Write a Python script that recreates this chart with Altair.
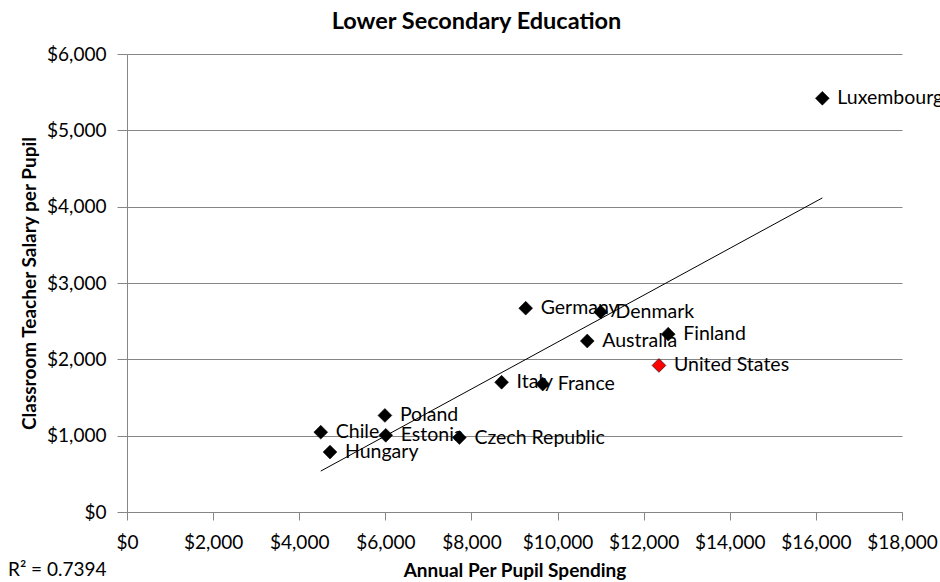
import altair as alt
import pandas as pd

countries = ["Luxembourg", "Germany", "Denmark", "Australia", "Finland", "United States",
             "Italy", "France", "Poland", "Chile", "Estonia", "Hungary", "Czech Republic"]
spending = [16150, 9260, 11000, 10690, 12570, 12355, 8700, 9655, 5990, 4500, 6010, 4715, 7720]
salary = [5420, 2670, 2620, 2240, 2330, 1920, 1700, 1675, 1265, 1045, 1005, 785, 975]
group = ["other", "other", "other", "other", "other", "us",
         "other", "other", "other", "other", "other", "other", "other"]

x_ticks = [0, 2000, 4000, 6000, 8000, 10000, 12000, 14000, 16000, 18000]
y_ticks = [0, 1000, 2000, 3000, 4000, 5000, 6000]
r2_text = ["R² = 0.7394"]

df = pd.DataFrame({"country": countries, "spending": spending, "salary": salary, "group": group})

FONT = "Lato"
GRAY = "#868686"

x_enc = alt.X("spending:Q",
              scale=alt.Scale(domain=[0, 18000], nice=False),
              axis=alt.Axis(values=x_ticks, format="$,.0f", grid=False, labelOverlap=False,
                            labelFlush=False,
                            title="Annual Per Pupil Spending",
                            tickSize=8, labelPadding=13, titlePadding=9))
y_enc = alt.Y("salary:Q",
              scale=alt.Scale(domain=[0, 6000], nice=False),
              axis=alt.Axis(values=y_ticks, format="$,.0f", grid=True, labelOverlap=False,
                            labelFlush=False,
                            title="Classroom Teacher Salary per Pupil",
                            tickSize=10, labelPadding=11, titlePadding=7))

base = alt.Chart(df)

labels = base.mark_text(align="left", baseline="middle", dx=15, font=FONT,
                        fontSize=19.5, color="black").encode(x=x_enc, y=y_enc, text="country:N")

points = base.mark_point(shape="diamond", filled=True, size=190, opacity=1,
                         stroke="black", strokeWidth=0.6).encode(
    x=x_enc, y=y_enc,
    color=alt.Color("group:N", scale=alt.Scale(domain=["other", "us"], range=["#000000", "#FF0000"]),
                    legend=None))

trend = base.transform_regression("spending", "salary").mark_line(
    color="black", strokeWidth=1).encode(x=x_enc, y=y_enc)

r2 = alt.Chart(pd.DataFrame({"t": r2_text})).mark_text(
    align="left", baseline="middle", font=FONT, fontSize=19, color="black").encode(
    x=alt.value(-119), y=alt.value(516), text="t:N")

chart = alt.layer(labels, points, trend, r2).properties(
    width=775, height=458,
    autosize=alt.AutoSizeParams(type="none"),
    padding={"left": 127, "top": 54, "right": 38, "bottom": 70},
    title=alt.TitleParams("Lower Secondary Education", font=FONT, fontSize=23.5,
                          fontWeight="bold", color="black", anchor="middle",
                          dx=-38, offset=12),
).configure_view(strokeWidth=0).configure_axis(
    labelFont=FONT, labelFontSize=19, labelColor="black",
    titleFont=FONT, titleFontSize=19, titleFontWeight="bold", titleColor="black",
    domainColor=GRAY, tickColor=GRAY, gridColor=GRAY, domainWidth=1, gridWidth=1,
)

chart.save("out.html", embed_options={"renderer": "svg", "actions": False})
